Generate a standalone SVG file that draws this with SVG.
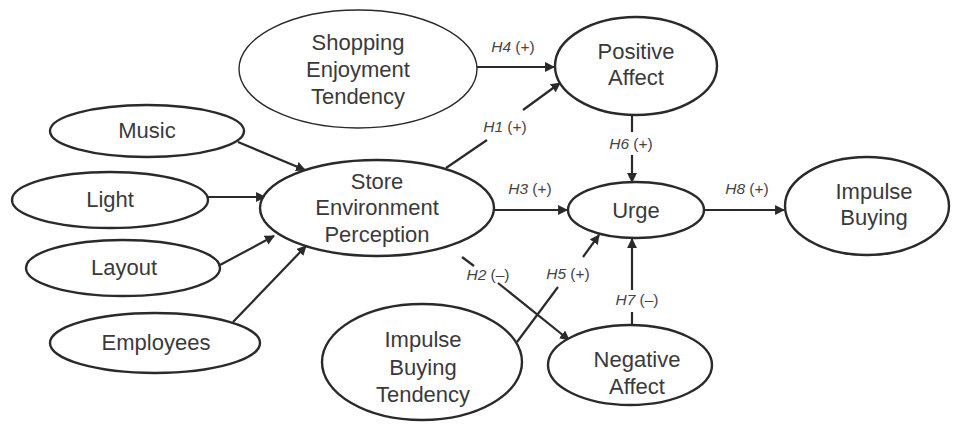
<svg xmlns="http://www.w3.org/2000/svg" width="956" height="432" viewBox="0 0 956 432">
<style>
.n{fill:#fff;stroke:#2a2a2a;stroke-width:2.4}
.thin{stroke-width:1.4}
.t{font-family:"Liberation Sans",Arial,sans-serif;font-size:22px;fill:#3a3a3a;text-anchor:middle}
.l{font-family:"Liberation Sans",Arial,sans-serif;font-size:15.5px;fill:#444;text-anchor:middle}
.c{stroke:#2a2a2a;stroke-width:2.2;fill:none}
</style>
<defs>
<marker id="ah" viewBox="0 0 10 10" refX="9" refY="5" markerWidth="4.5" markerHeight="4.5" orient="auto" markerUnits="strokeWidth">
<path d="M0,0 L10,5 L0,10 z" fill="#2a2a2a"/>
</marker>
</defs>
<rect width="956" height="432" fill="#fff"/>
<g id="connectors">
<line class="c" x1="477" y1="67" x2="554" y2="67" marker-end="url(#ah)"/>
<line class="c" x1="446" y1="168" x2="487" y2="140"/>
<line class="c" x1="523" y1="110" x2="560" y2="83" marker-end="url(#ah)"/>
<line class="c" x1="632" y1="115" x2="632" y2="132"/>
<line class="c" x1="632" y1="155" x2="632" y2="182" marker-end="url(#ah)"/>
<line class="c" x1="495" y1="210" x2="567" y2="210" marker-end="url(#ah)"/>
<line class="c" x1="705" y1="210" x2="784" y2="210" marker-end="url(#ah)"/>
<line class="c" x1="632" y1="325" x2="632" y2="312"/>
<line class="c" x1="632" y1="290" x2="632" y2="239" marker-end="url(#ah)"/>
<line class="c" x1="462" y1="257" x2="474" y2="266"/>
<line class="c" x1="498" y1="283" x2="569" y2="340" marker-end="url(#ah)"/>
<line class="c" x1="517" y1="342" x2="558" y2="287"/>
<line class="c" x1="583" y1="257" x2="599" y2="235" marker-end="url(#ah)"/>
<line class="c" x1="238" y1="142" x2="305" y2="170" marker-end="url(#ah)"/>
<line class="c" x1="207" y1="197" x2="265" y2="197" marker-end="url(#ah)"/>
<line class="c" x1="220" y1="265" x2="274" y2="236" marker-end="url(#ah)"/>
<line class="c" x1="233" y1="322" x2="306" y2="246" marker-end="url(#ah)"/>
<text class="l" x="513" y="52"><tspan font-style="italic">H4</tspan> (+)</text>
<text class="l" x="505" y="132"><tspan font-style="italic">H1</tspan> (+)</text>
<text class="l" x="631" y="149"><tspan font-style="italic">H6</tspan> (+)</text>
<text class="l" x="530" y="194"><tspan font-style="italic">H3</tspan> (+)</text>
<text class="l" x="747" y="194"><tspan font-style="italic">H8</tspan> (+)</text>
<text class="l" x="488" y="280"><tspan font-style="italic">H2</tspan> (–)</text>
<text class="l" x="568" y="279"><tspan font-style="italic">H5</tspan> (+)</text>
<text class="l" x="637" y="305"><tspan font-style="italic">H7</tspan> (–)</text>
</g>
<g id="shopping">
<ellipse class="n thin" cx="358" cy="69" rx="119" ry="59"/>
<text class="t" x="358" y="50">Shopping</text>
<text class="t" x="358" y="77">Enjoyment</text>
<text class="t" x="358" y="104">Tendency</text>
</g>
<g id="positive">
<ellipse class="n" cx="636" cy="66" rx="81" ry="49"/>
<text class="t" x="636" y="59">Positive</text>
<text class="t" x="636" y="85">Affect</text>
</g>
<g id="music">
<ellipse class="n" cx="147" cy="131" rx="97" ry="26"/>
<text class="t" x="147" y="138">Music</text>
</g>
<g id="light">
<ellipse class="n" cx="110" cy="200" rx="98" ry="28"/>
<text class="t" x="110" y="207">Light</text>
</g>
<g id="layout">
<ellipse class="n" cx="123" cy="268" rx="97" ry="28"/>
<text class="t" x="124" y="275">Layout</text>
</g>
<g id="employees">
<ellipse class="n" cx="155" cy="343" rx="105" ry="30"/>
<text class="t" x="156" y="350">Employees</text>
</g>
<g id="store">
<ellipse class="n" cx="377" cy="208" rx="117" ry="48"/>
<text class="t" x="377" y="189">Store</text>
<text class="t" x="377" y="215">Environment</text>
<text class="t" x="377" y="242">Perception</text>
</g>
<g id="urge">
<ellipse class="n" cx="636" cy="210" rx="68" ry="28"/>
<text class="t" x="636" y="218">Urge</text>
</g>
<g id="impulsebuying">
<ellipse class="n" cx="867" cy="206" rx="82" ry="49"/>
<text class="t" x="874" y="199">Impulse</text>
<text class="t" x="874" y="225">Buying</text>
</g>
<g id="negative">
<ellipse class="n" cx="630" cy="365" rx="82" ry="40"/>
<text class="t" x="637" y="367">Negative</text>
<text class="t" x="637" y="394">Affect</text>
</g>
<g id="ibt">
<ellipse class="n" cx="422" cy="362" rx="100" ry="58"/>
<text class="t" x="423" y="347">Impulse</text>
<text class="t" x="423" y="375">Buying</text>
<text class="t" x="423" y="402">Tendency</text>
</g>
</svg>
